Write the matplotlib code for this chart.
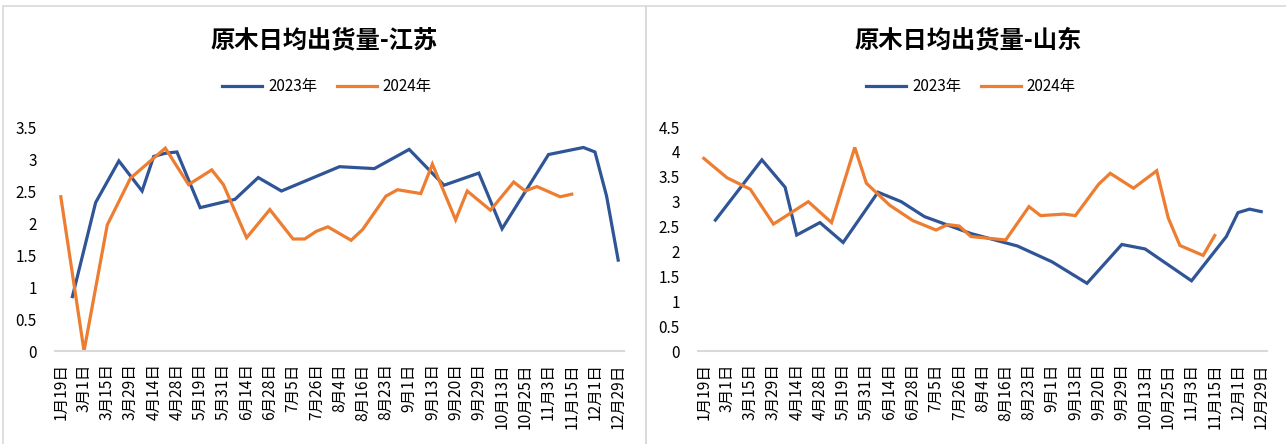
import numpy as np
import matplotlib.pyplot as plt
from matplotlib.patches import Rectangle
from matplotlib.lines import Line2D

plt.rcParams['font.family'] = ['Noto Sans CJK SC', 'DejaVu Sans']

# 横轴标签（每隔一个类别显示一个）
tick_labels = ['1月19日', '3月1日', '3月15日', '3月29日', '4月14日', '4月28日', '5月19日',
               '5月31日', '6月14日', '6月28日', '7月5日', '7月26日', '8月4日', '8月16日',
               '8月23日', '9月1日', '9月13日', '9月20日', '9月29日', '10月13日', '10月25日',
               '11月3日', '11月15日', '12月1日', '12月29日']
n_cat = 49
N = None

# 江苏 日均出货量（万方），None = 当日无数据
js_2023 = [N, 0.85, N, 2.32, N, 2.97, N, 2.50, 3.04, 3.09,
           3.11, N, 2.24, N, N, 2.37, N, 2.71, N, 2.50,
           N, N, N, N, 2.88, N, N, 2.85, N, N,
           3.15, N, N, 2.59, N, N, 2.78, N, 1.91, N,
           N, N, 3.07, N, N, 3.18, 3.11, 2.42, 1.42]
js_2024 = [2.41, N, 0.0, N, 1.97, N, 2.70, N, N, 3.17,
           N, 2.60, N, 2.83, 2.60, N, 1.77, N, 2.21, N,
           1.75, 1.75, 1.87, 1.94, N, 1.73, 1.90, N, 2.42, 2.52,
           N, 2.46, 2.92, N, 2.05, 2.50, N, 2.20, N, 2.64,
           2.50, 2.57, N, 2.41, 2.45, N, N, N, N]

# 山东 日均出货量
sd_2023 = [N, 2.63, N, N, N, 3.84, N, 3.29, 2.33, N,
           2.58, N, 2.18, N, N, 3.19, N, 3.00, N, 2.70,
           N, 2.53, N, 2.36, N, N, N, 2.11, N, N,
           1.79, N, N, 1.36, N, N, 2.14, N, 2.05, N,
           N, N, 1.41, N, N, 2.30, 2.78, 2.85, 2.80]
sd_2024 = [3.87, N, 3.48, N, 3.25, N, 2.55, N, N, 3.00,
           N, 2.58, N, 4.09, 3.37, N, 2.93, N, 2.62, N,
           2.43, 2.54, 2.51, 2.30, N, N, 2.23, N, 2.90, 2.72,
           N, 2.75, 2.72, N, 3.35, 3.57, N, 3.27, N, 3.62,
           2.67, 2.12, N, 1.92, 2.32, N, N, N, N]

c_2023 = '#2F5597'
c_2024 = '#ED7D31'

fig = plt.figure(figsize=(12.86, 4.44), dpi=100)

# 两个图表的外框
fig.add_artist(Rectangle((3 / 1286, -0.01), 643 / 1286, 1.01 - 6 / 444,
                         transform=fig.transFigure, fill=False, edgecolor='#D9D9D9', lw=1.2))
fig.add_artist(Rectangle((646 / 1286, -0.01), 650 / 1286, 1.01 - 6 / 444,
                         transform=fig.transFigure, fill=False, edgecolor='#D9D9D9', lw=1.2))


def draw(rect, s23, s24, ymax, title, title_x, leg_x):
    ax = fig.add_axes(rect)
    x = np.arange(n_cat)
    for s, c in ((s23, c_2023), (s24, c_2024)):
        y = np.array([np.nan if v is None else v for v in s])
        m = ~np.isnan(y)
        ax.plot(x[m], y[m], color=c, lw=2.3, solid_joinstyle='miter')
    ax.set_xlim(-0.5, n_cat - 0.5)
    ax.set_ylim(0, ymax)
    ax.set_yticks(np.arange(0, ymax + 0.01, 0.5))
    ax.set_yticklabels([f'{v:g}' for v in np.arange(0, ymax + 0.01, 0.5)], fontsize=11)
    ax.set_xticks(np.arange(0, n_cat, 2))
    ax.set_xticklabels(tick_labels, rotation=90, fontsize=11.2)
    ax.tick_params(axis='both', length=0, colors='#000000')
    ax.tick_params(axis='y', pad=13)
    ax.tick_params(axis='x', pad=9)
    for sp in ('top', 'right', 'left'):
        ax.spines[sp].set_visible(False)
    ax.spines['bottom'].set_color('#D9D9D9')
    ax.spines['bottom'].set_linewidth(1.5)
    fig.text(title_x, 1 - 40 / 444, title, ha='center', va='center',
             fontsize=17.5, fontweight='bold')
    handles = [Line2D([], [], color=c_2023, lw=2.3), Line2D([], [], color=c_2024, lw=2.3)]
    fig.legend(handles, ['2023年', '2024年'], loc='center', ncol=2,
               bbox_to_anchor=(leg_x, 1 - 87 / 444), frameon=False, fontsize=11,
               handlelength=2.6, columnspacing=1.3, handletextpad=0.4)
    return ax


draw([55 / 1286, 93 / 444, 569 / 1286, 224 / 444], js_2023, js_2024, 3.5,
     '原木日均出货量-江苏', 324 / 1286, 327 / 1286)
draw([698 / 1286, 93 / 444, 569 / 1286, 224 / 444], sd_2023, sd_2024, 4.5,
     '原木日均出货量-山东', 968 / 1286, 971 / 1286)

fig.savefig('out.png', dpi=100)
